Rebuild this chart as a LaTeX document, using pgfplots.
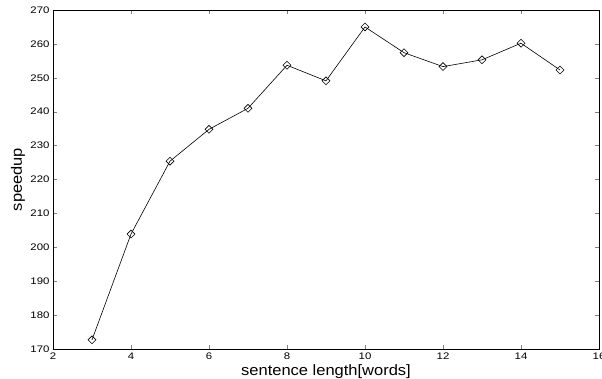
\documentclass[border=0pt]{standalone}
\usepackage{pgfplots}
\pgfplotsset{compat=1.18}
\usepackage{fontspec}
\setmainfont{Liberation Sans}
\newfontfamily\tickfont[FakeStretch=1.2]{Liberation Sans}
\newfontfamily\labfont[FakeStretch=1.1]{Liberation Sans}
\begin{document}
\begin{tikzpicture}[x=1pt,y=1pt]
\useasboundingbox (0,0) rectangle (602,379);
\begin{axis}[
  at={(53pt,30pt)}, anchor=south west,
  scale only axis, width=546pt, height=339pt,
  xmin=2, xmax=16, ymin=170, ymax=270,
  xtick={2,4,...,16}, ytick={170,180,...,270},
  tick align=inside, major tick length=4pt,
  axis line style={line width=0.8pt},
  /pgf/number format/assume math mode=true,
  ticklabel style={font=\fontsize{9.5}{10}\tickfont},
  label style={font=\fontsize{15}{16}\labfont},
  xlabel={sentence length[words]}, ylabel={speedup},
  xlabel style={at={(axis description cs:0.5,0)}, anchor=base, yshift=-27pt},
  ylabel style={at={(axis description cs:-0.064,0.5)}, anchor=center},
]
\addplot[black, line width=0.6pt, mark=square, mark size=2.8pt,
  mark options={rotate=45, fill=white, line width=0.6pt}]
  coordinates {
  (3,172.7) (4,203.9) (5,225.4) (6,234.8) (7,241.0) (8,253.7) (9,249.1)
  (10,265.0) (11,257.4) (12,253.3) (13,255.3) (14,260.2) (15,252.3)
  };
\end{axis}
\end{tikzpicture}
\end{document}
